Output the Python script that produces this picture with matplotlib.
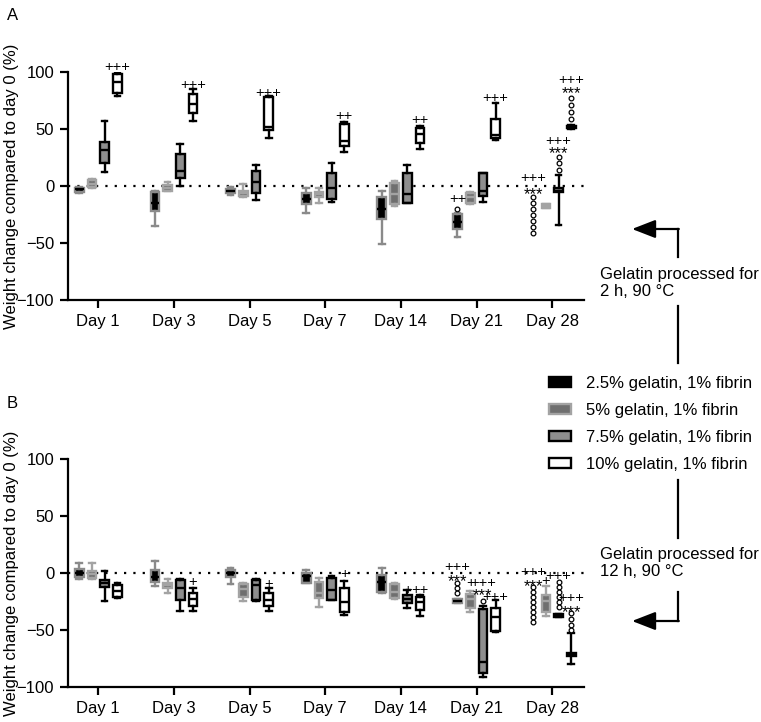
import matplotlib
matplotlib.use("Agg")
import matplotlib.pyplot as plt
from matplotlib.lines import Line2D
from matplotlib.patches import FancyArrowPatch, Patch

plt.rcParams["font.family"] = ["Liberation Sans", "DejaVu Sans"]

DAYS = ["Day 1", "Day 3", "Day 5", "Day 7", "Day 14", "Day 21", "Day 28"]
GROUPS = ["2.5% gelatin, 1% fibrin", "5% gelatin, 1% fibrin",
          "7.5% gelatin, 1% fibrin", "10% gelatin, 1% fibrin"]

# box stats per day: [whisker low, q1, median, q3, whisker high]; None = no data
# panel A: gelatin processed 2 h, 90 °C
A_GEL_25 = [[-6, -5, -3, -1.5, -1], [-35, -22, -15, -5, -4], [-8, -6, -4, -2.5, -1],
            [-23.5, -15.5, -11, -6, -2], [-51, -29, -20, -9.4, -4.7],
            [-45, -38, -32, -24.6, -23.5], None]
A_GEL_5 = [[-1.5, -1, 2, 5, 6], [-4, -4, -2, 0.5, 3.5], [-10, -9, -6, -4.5, 1.5],
           [-14.7, -9.4, -7, -5.5, -2], [-17.6, -16, -7, 3, 4],
           [-16, -14.7, -10, -6.5, -5], [-19, -19, -17.6, -16, -16]]
A_GEL_75 = [[12, 20.5, 32, 38.7, 57], [0, 7, 13, 28, 37], [-12.6, -6, 3.5, 13, 18],
            [-13.8, -11, -2, 11.7, 20], [-15, -14.7, -7, 11, 18.5],
            [-13.8, -8.5, -4.4, 11.7, 11.7], [-34, -5.6, -4, -2, 9.7]]
A_GEL_10 = [[79, 82, 91.5, 98, 100], [57, 64, 72, 81, 85], [42.5, 49, 51.5, 78, 79],
            [30, 35, 39.6, 54.5, 56], [32.5, 37.5, 45.7, 50.7, 52.8],
            [40, 42, 45, 58.6, 72.7], [50, 50.5, 52, 53, 53.5]]

# panel B: gelatin processed 12 h, 90 °C
B_GEL_25 = [[-5.3, -3.8, 0, 3.2, 8.5], [-11, -7.6, -3.8, 2.6, 10.5], [-10, -3.2, 0, 2.6, 4],
            [-8.5, -8.5, -2.6, -0.3, 2.6], [-17.3, -16.4, -7.6, -1.8, 4],
            [-26, -26, -24.5, -23, -23], None]
B_GEL_5 = [[-5.3, -4.7, -1, 2, 9], [-17.3, -13.5, -10.8, -8.5, -5.3],
           [-24.6, -20.8, -14.4, -10, -8.5], [-29.6, -22, -17.5, -7.9, -4],
           [-22.5, -21.7, -16.4, -9.7, -8.5], [-34, -31, -23, -18.4, -15.5],
           [-37.8, -34, -25, -19.3, -11.4]]
B_GEL_75 = [[-24.6, -12.6, -9, -6, 2], [-33.4, -23.7, -13.5, -6, -5.3],
            [-24.6, -23.7, -10.5, -6, -5.6], [-23.7, -23.3, -14.6, -4.8, -2.9],
            [-31, -26.6, -23, -19.3, -15], [-91.5, -87.5, -78, -32, -29],
            [-38.6, -38.6, -37, -35.7, -35.7]]
B_GEL_10 = [[-21.7, -20.8, -15.5, -10.5, -8.5], [-33.4, -28.7, -23, -17.9, -12.9],
            [-33.4, -28.7, -23.7, -18, -13], [-37, -34, -25.5, -13.5, -7],
            [-37.8, -32.5, -25.5, -21.4, -19.3], [-51.5, -50.7, -39, -31, -24],
            [-80, -73, -71.5, -70, -53]]

# significance marks: (day index, group index, text, y)
A_MARKS = [(0, 3, "+++", 104), (1, 3, "+++", 89), (2, 3, "+++", 82), (3, 3, "++", 61),
           (4, 3, "++", 58), (5, 3, "+++", 77), (5, 0, "++", -11),
           (6, 0, "+++", 6.7), (6, 0, "***", -4.4), (6, 2, "+++", 39.6), (6, 2, "***", 32),
           (6, 3, "+++", 92.7), (6, 3, "***", 84.5)]
A_RINGS = [(5, 0, [-20.5]), (6, 0, [-9.4, -14.8, -20.2, -25.6, -31, -36.4, -41.6]),
           (6, 2, [25.8, 20, 14]), (6, 3, [77, 71, 65, 59])]

B_MARKS = [(1, 3, "+", -7.6), (2, 3, "+", -9.7), (3, 3, "+", -1), (4, 2, "+", -15),
           (4, 3, "++", -15), (5, 0, "+++", 5), (5, 0, "***", -3.8), (5, 1, "+", -9),
           (5, 2, "+++", -9), (5, 2, "***", -16.4), (5, 3, "+++", -21.4),
           (6, 0, "+++", 1.2), (6, 0, "***", -8.2), (6, 1, "+", -6.7), (6, 2, "+++", -2.6),
           (6, 3, "+++", -22), (6, 3, "***", -31)]
B_RINGS = [(5, 0, [-9, -13.5, -17.9]), (5, 2, [-25]),
           (6, 0, [-12.6, -16.9, -21.2, -25.5, -29.8, -34.1, -38.4, -42.7]),
           (6, 2, [-7.6, -12, -16.4, -20.8, -25.2, -29.6]),
           (6, 3, [-35.4, -40.7, -45.7, -50])]

FACE = ["black", "#6f6f6f", "#8e8e8e", "white"]
EDGE = ["#8a8a8a", "#a3a3a3", "black", "black"]
MEDIAN = ["black", "#a3a3a3", "black", "black"]
OFFSET = 0.168
LW = 1.7


def px(x, y):
    return x / 761, 1 - y / 722


def draw_panel(ax, series, marks, rings):
    for g, data in enumerate(series):
        stats, pos = [], []
        for d, row in enumerate(data):
            if row is None:
                continue
            lo, q1, med, q3, hi = row
            stats.append(dict(whislo=lo, q1=q1, med=med, q3=q3, whishi=hi, fliers=[]))
            pos.append(d + (g - 1.5) * OFFSET)
        ax.bxp(stats, positions=pos, widths=0.115, capwidths=0.075, patch_artist=True,
               showfliers=False, manage_ticks=False,
               boxprops=dict(facecolor=FACE[g], edgecolor=EDGE[g], linewidth=LW),
               whiskerprops=dict(color=EDGE[g], linewidth=LW),
               capprops=dict(color=EDGE[g], linewidth=LW),
               medianprops=dict(color=MEDIAN[g], linewidth=LW))
    ax.axhline(0, color="black", linewidth=1.6, linestyle=(0, (1, 3.2)), zorder=0.5)
    for d, g, txt, y in marks:
        x = d + (g - 1.5) * OFFSET
        if txt.startswith("*"):
            ax.text(x, y - 3.5, txt, ha="center", va="center", fontsize=12)
        else:
            ax.text(x, y, txt, ha="center", va="center", fontsize=10.5)
    for d, g, ys in rings:
        x = d + (g - 1.5) * OFFSET
        ax.plot([x] * len(ys), ys, linestyle="none", marker="o", ms=3.4,
                mfc="white", mec="black", mew=0.9)

    ax.set_xlim(-0.4, 6.42)
    ax.set_ylim(-100, 100)
    ax.set_yticks([-100, -50, 0, 50, 100])
    ax.set_xticks(range(len(DAYS)))
    ax.set_xticklabels(DAYS)
    ax.tick_params(labelsize=12, width=1.6, length=6, pad=4)
    for side in ("top", "right"):
        ax.spines[side].set_visible(False)
    for side in ("left", "bottom"):
        ax.spines[side].set_linewidth(1.6)
    ax.set_ylabel("Weight change compared to day 0 (%)", fontsize=12)
    ax.yaxis.set_label_coords(-0.095, 0.5)


fig = plt.figure(figsize=(7.61, 7.22), dpi=100)
ax_a = fig.add_axes([0.0894, 0.5845, 0.678, 0.3158])
ax_b = fig.add_axes([0.0894, 0.0485, 0.678, 0.3158])

draw_panel(ax_a, [A_GEL_25, A_GEL_5, A_GEL_75, A_GEL_10], A_MARKS, A_RINGS)
draw_panel(ax_b, [B_GEL_25, B_GEL_5, B_GEL_75, B_GEL_10], B_MARKS, B_RINGS)

fig.text(*px(7, 15), "A", fontsize=12, va="center")
fig.text(*px(7, 403), "B", fontsize=12, va="center")

handles = [Patch(facecolor=FACE[g], edgecolor=EDGE[g] if g else "black", linewidth=LW)
           for g in range(4)]
fig.legend(handles, GROUPS, loc="upper left", bbox_to_anchor=px(549, 376),
           frameon=False, fontsize=12, handlelength=1.3, handleheight=0.6,
           handletextpad=0.9, labelspacing=0.72, borderpad=0, borderaxespad=0)

# side notes with bracket arrows
fig.text(*px(600, 283), "Gelatin processed for\n2 h, 90 °C", fontsize=12, va="center",
         linespacing=1.15)
fig.text(*px(600, 563), "Gelatin processed for\n12 h, 90 °C", fontsize=12, va="center",
         linespacing=1.15)

for (x0, y0), (x1, y1) in [((678, 257), (678, 229)), ((678, 306), (678, 363)),
                           ((678, 480), (678, 538)), ((678, 592), (678, 621))]:
    fig.add_artist(Line2D([x0 / 761, x1 / 761], [1 - y0 / 722, 1 - y1 / 722],
                          color="black", linewidth=1.6, transform=fig.transFigure))
for y in (229, 621):
    fig.add_artist(FancyArrowPatch(px(678.8, y), px(632, y), transform=fig.transFigure,
                                   arrowstyle="-|>,head_length=0.9,head_width=0.35",
                                   mutation_scale=16, color="black", linewidth=1.6,
                                   shrinkA=0, shrinkB=0))

fig.savefig("out.png", dpi=100)
